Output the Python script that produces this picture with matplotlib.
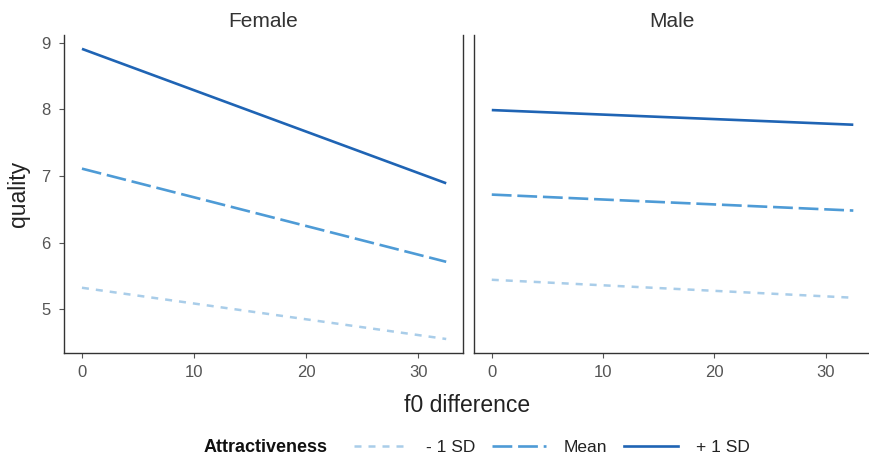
import numpy as np
import matplotlib
matplotlib.use("Agg")
import matplotlib.pyplot as plt
from matplotlib.lines import Line2D

plt.rcParams["font.family"] = ["Liberation Sans", "DejaVu Sans"]

# simple slopes of quality on f0 difference, by sex and attractiveness level
f0_range = [0, 32.5]
levels = ["- 1 SD", "Mean", "+ 1 SD"]
female_start = [5.32, 7.11, 8.91]
female_end = [4.55, 5.71, 6.89]
male_start = [5.44, 6.72, 7.99]
male_end = [5.17, 6.48, 7.77]

colors = ["#a9cde9", "#4e9bd6", "#1f64b4"]
dashes = [(2.8, 2.8), (7.5, 2.2), None]
widths = [1.8, 1.9, 1.9]

fig = plt.figure(figsize=(8.7, 4.59), dpi=100)
ax1 = fig.add_axes([0.0736, 0.231, 0.4586, 0.693])
ax2 = fig.add_axes([0.5448, 0.231, 0.4552, 0.693])

for ax, starts, ends, title in [(ax1, female_start, female_end, "Female"),
                                (ax2, male_start, male_end, "Male")]:
    for lev, s, e, c, d, w in zip(levels, starts, ends, colors, dashes, widths):
        ln, = ax.plot(f0_range, [s, e], color=c, lw=w, solid_capstyle="butt")
        if d is not None:
            ln.set_dashes(d)
    ax.set_xlim(-1.6, 34.0)
    ax.set_ylim(4.34, 9.12)
    ax.set_xticks([0, 10, 20, 30])
    ax.set_yticks([5, 6, 7, 8, 9])
    ax.spines["top"].set_visible(False)
    ax.spines["right"].set_visible(False)
    for sp in ["left", "bottom", "right"]:
        ax.spines[sp].set_color("#333333")
        ax.spines[sp].set_linewidth(1.0)
    ax.tick_params(colors="#555555", labelsize=12, length=3.5, width=0.8)
    ax.tick_params(axis="x", pad=5)
    ax.tick_params(axis="y", pad=6)
    ax.set_title(title, fontsize=15, color="#333333", pad=6)

ax1.spines["right"].set_visible(True)
ax2.tick_params(axis="y", left=False, labelleft=False)
ax1.set_ylabel("quality", fontsize=16.5, color="#222222", labelpad=8)
fig.text(0.537, 0.116, "f0 difference", ha="center", va="center", fontsize=16.5, color="#222222")

# legend along the bottom
fig.text(0.2345, 0.026, "Attractiveness", ha="left", va="center", fontsize=13,
         fontweight="bold", color="#111111")
handles = []
for lev, c, d, w in zip(levels, colors, dashes, widths):
    h = Line2D([], [], color=c, lw=w, label=lev)
    if d is not None:
        h.set_dashes(d)
    handles.append(h)
fig.legend(handles=handles, ncol=3, frameon=False, loc="center left",
           bbox_to_anchor=(0.3885, 0.026), fontsize=12.5, handlelength=3.15,
           columnspacing=0.92, handletextpad=1.03, labelcolor="#222222")

fig.savefig("out.png", dpi=100)
